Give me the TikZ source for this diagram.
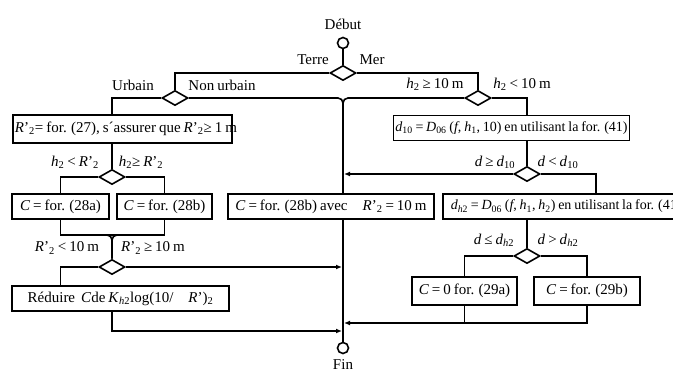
\documentclass[tikz,border=0pt]{standalone}
\usepackage{fontspec}
\setmainfont[WordSpace=0.8]{Liberation Serif}
\usetikzlibrary{shapes.geometric,arrows.meta}
\newcommand{\vi}[1]{\textit{#1}}
\newcommand{\sbs}[1]{\textsubscript{#1}}
\begin{document}
\begin{tikzpicture}[x=1pt,y=-1pt,line width=1.6pt,>={Latex[length=6pt,width=5pt]},
	font=\fontsize{15}{17}\selectfont,
	box/.style={draw,fill=white,rectangle,inner sep=2pt,minimum height=25pt},
	cond/.style={draw,diamond,inner sep=0pt,minimum width=26pt,minimum height=15pt},
	term/.style={draw,circle,inner sep=0pt,minimum size=11pt},
	merge/.style={rounded corners=5pt}]
	\useasboundingbox (0,0) rectangle (673,369);
	% start and land / sea
	\node[term,label={[label distance=3pt]above:Début}] (debut) at (343,43) {};
	\node[cond] (dterre) at (343,73) {};
	\node (tterre) at (313,60) {Terre};
	\node (tmer) at (372,60) {Mer};
	% land branch
	\node[cond] (durbain) at (175,98) {};
	\node (turbain) at (133,85) {Urbain};
	\node (tnonurb) at (222,85) {Non urbain};
	\node[box,minimum height=28pt] (bR) at (122.5,129) {\makebox[215pt][l]{\vi{R}'\sbs{2}= for. (27), s´assurer que \vi{R}'\sbs{2}≥ 1 m}};
	\node[cond] (dhr) at (112,177) {};
	\node (thra) at (75,162) {\vi{h}\sbs{2} < \vi{R}'\sbs{2}};
	\node (thrb) at (141,162) {\vi{h}\sbs{2}≥ \vi{R}'\sbs{2}};
	\node[box,minimum width=97pt] (b28a) at (60.5,206.5) {\vi{C} = for. (28a)};
	\node[box,minimum width=95pt] (b28b) at (164.5,206.5) {\vi{C} = for. (28b)};
	\coordinate (jR) at (112,235);
	\node[cond] (dhr2) at (112,267) {};
	\node (tr2a) at (67,248) {\vi{R}'\sbs{2} < 10 m};
	\node (tr2b) at (153,248) {\vi{R}'\sbs{2} ≥ 10 m};
	\node[box,minimum width=217pt] (bRed) at (120.5,298.5) {Réduire~~\vi{C}de \vi{K}\sbs{\vi{h}2}log(10/\quad\vi{R}')\sbs{2}};
	% sea branch
	\node[cond] (dh) at (478,98) {};
	\node (th2a) at (435,84) {\vi{h}\sbs{2} ≥ 10 m};
	\node (th2b) at (522,84) {\vi{h}\sbs{2} < 10 m};
	\node[box,minimum width=233pt,font=\fontsize{14}{16}\selectfont] (bD10) at (511.5,128) {\vi{d}\sbs{10} = \vi{D}\sbs{06} (\vi{f}, \vi{h}\sbs{1}, 10) en utilisant la for. (41)};
	\node[cond] (dd) at (527,174) {};
	\node (tda) at (495,162) {\vi{d} ≥ \vi{d}\sbs{10}};
	\node (tdb) at (558,162) {\vi{d} < \vi{d}\sbs{10}};
	\coordinate (cDh2) at (596,194);
	\node[box,anchor=west,inner xsep=8pt,font=\fontsize{14}{16}\selectfont] (bDh2) at (442,206.5) {\vi{d}\sbs{\vi{h}2} = \vi{D}\sbs{06} (\vi{f}, \vi{h}\sbs{1}, \vi{h}\sbs{2}) en utilisant la for. (41)};
	\node[cond] (dd2) at (527,256) {};
	\node (tdc) at (494,240) {\vi{d} ≤ \vi{d}\sbs{\vi{h}2}};
	\node (tdd) at (558,240) {\vi{d} > \vi{d}\sbs{\vi{h}2}};
	\node[box,minimum width=105pt,minimum height=28pt] (b29a) at (464.5,291) {\vi{C} = 0 for. (29a)};
	\node[box,minimum width=106pt,minimum height=28pt] (b29b) at (587,291) {\vi{C} = for. (29b)};
	% middle and end
	\node[box,minimum width=206pt] (bC) at (331,206.5) {\vi{C} = for. (28b) avec\quad \vi{R}'\sbs{2} = 10 m};
	\node[term,label={[label distance=1pt]below:Fin}] (fin) at (343,348) {};
	\coordinate (jD) at (343,323);
	\coordinate (jRed) at (343,331);
	% connectors
	\draw (debut) -- (dterre);
	\draw (dterre.west) -| (durbain.north);
	\draw (dterre.east) -| (dh.north);
	\draw (durbain.west) -| (bR.north -| dhr);
	\draw[merge] (durbain.east) -| (bC.north -| debut);
	\draw[merge] (dh.west) -| (bC.north -| debut);
	\draw (bR.south -| dhr) -- (dhr.north);
	\draw (dhr.west) -| (b28a.north);
	\draw (dhr.east) -| (b28b.north);
	\draw (b28a.south) |- (jR) -| (b28b.south);
	\draw[merge] ([xshift=-9pt]jR) -- (jR) -- (dhr2.north);
	\draw[merge] ([xshift=9pt]jR) -- (jR) -- (dhr2.north);
	\draw (dhr2.west) -| (bRed.north -| b28a);
	\draw[->,shorten >=1pt] (dhr2.east) -- (dhr2 -| debut);
	\draw[->,shorten >=1pt] (bRed.south -| dhr2) |- (jRed);
	\draw (dh.east) -| (bD10.north -| dd);
	\draw (bD10.south -| dd) -- (dd.north);
	\draw[->,shorten >=1pt] (dd.west) -- (dd -| debut);
	\draw (dd.east) -| (cDh2);
	\draw (bDh2.south -| dd2) -- (dd2.north);
	\draw (dd2.west) -| (b29a.north);
	\draw (dd2.east) -| (b29b.north);
	\draw[->,shorten >=1pt] (b29b.south) |- (jD);
	\draw (b29a.south) -- (b29a.south |- jD);
	\draw (bC.south -| debut) -- (fin.north);
\end{tikzpicture}
\end{document}
